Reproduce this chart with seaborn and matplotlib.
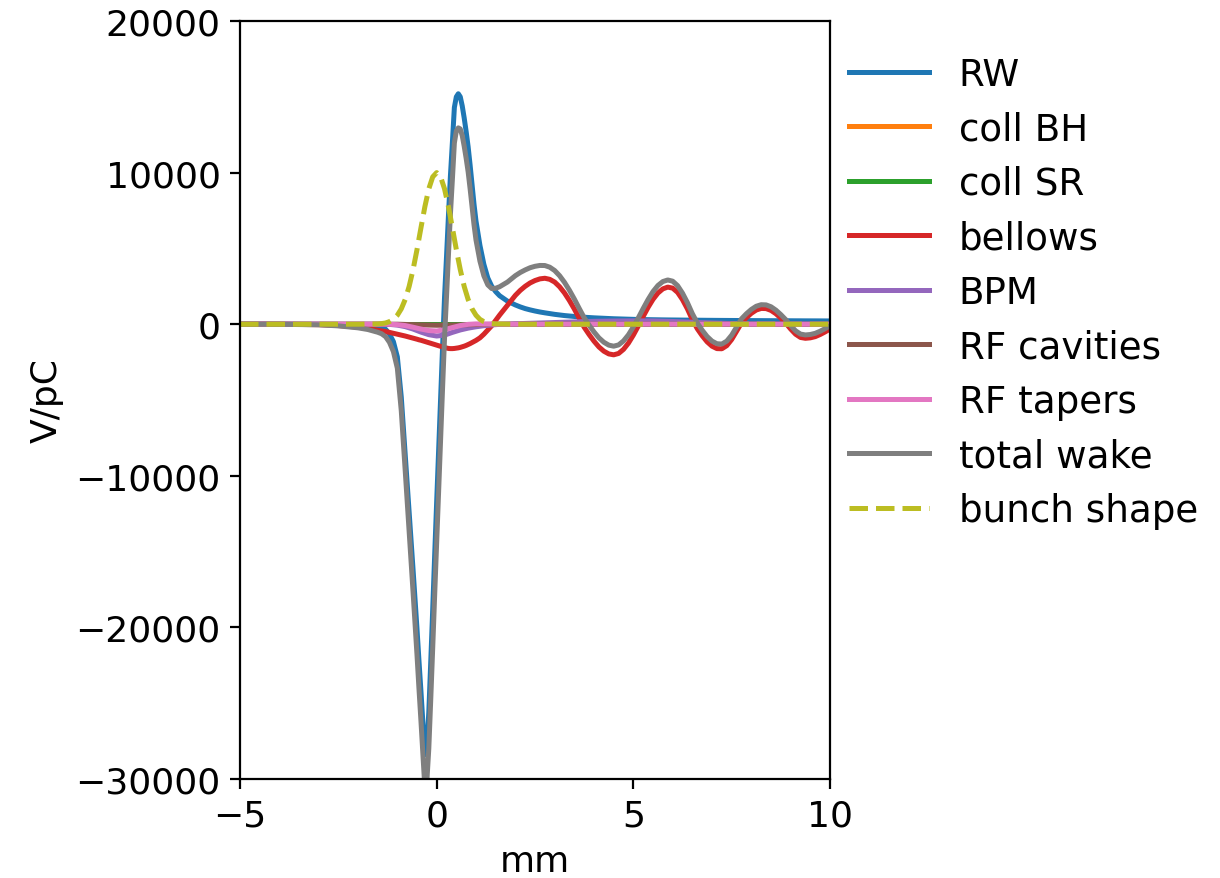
import matplotlib
matplotlib.use("Agg")
import matplotlib.pyplot as plt
import seaborn as sns

# ---- data ----
wake_x = [-5, -4, -3, -2.5, -2, -1.75, -1.5, -1.4, -1.3, -1.2, -1.1, -1.0, -0.9, -0.8, -0.7, -0.6,
          -0.5, -0.45, -0.4, -0.35, -0.3, -0.25, -0.2, -0.15, -0.1, -0.05, 0.0, 0.05, 0.1, 0.15,
          0.2, 0.25, 0.3, 0.35, 0.4, 0.45, 0.5, 0.55, 0.6, 0.65, 0.7, 0.75, 0.8, 0.85, 0.9, 0.95,
          1.0, 1.1, 1.2, 1.3, 1.4, 1.5, 1.6, 1.8,
          2.0, 2.125, 2.25, 2.375, 2.5, 2.625, 2.75, 2.875, 3.0, 3.125, 3.25, 3.375, 3.5, 3.625, 3.75, 3.875,
          4.0, 4.125, 4.25, 4.375, 4.5, 4.625, 4.75, 4.875, 5.0, 5.125, 5.25, 5.375, 5.5, 5.625, 5.75, 5.875,
          6.0, 6.125, 6.25, 6.375, 6.5, 6.625, 6.75, 6.875, 7.0, 7.125, 7.25, 7.375, 7.5, 7.625, 7.75, 7.875,
          8.0, 8.125, 8.25, 8.375, 8.5, 8.625, 8.75, 8.875, 9.0, 9.125, 9.25, 9.375, 9.5, 9.625, 9.75, 9.875,
          10.0]

rw = [0, 0, -10, -20, -40, -70, -130, -190, -330, -650, -1150, -2150, -4800, -8600, -12400, -16200,
      -20100, -22200, -24200, -26300, -28400, -27900, -25600, -22240, -18770, -15190, -11720, -8320, -4920, -1520,
      1780, 4430, 7180, 9800, 12000, 14300, 15000, 15200, 15000, 14400, 13600, 12700, 11700, 10500, 9200, 7900,
      6800, 5200, 3950, 3050, 2500, 2150, 1880, 1520,
      1270, 1140, 1030, 945, 870, 805, 750, 700, 650, 610, 570, 540, 510, 485, 460, 440,
      420, 405, 390, 375, 360, 350, 340, 330, 320, 312, 305, 300, 295, 290, 285, 281,
      278, 275, 272, 269, 266, 263, 260, 257, 255, 252, 250, 248, 246, 244, 242, 240,
      238, 236, 235, 233, 232, 230, 229, 227, 226, 224, 223, 221, 220, 219, 218, 216,
      215]

bellows = [0, -5, -30, -90, -200, -280, -400, -440, -490, -540, -600, -660, -720, -780, -850, -920,
           -990, -1030, -1060, -1100, -1140, -1180, -1220, -1260, -1300, -1340, -1380, -1420, -1460, -1500,
           -1540, -1570, -1600, -1610, -1610, -1600, -1580, -1560, -1530, -1490, -1450, -1400, -1340, -1280, -1210, -1140,
           -1070, -900, -660, -380, -100, 250, 600, 1250,
           1900, 2230, 2500, 2720, 2880, 2990, 3030, 2960, 2780, 2470, 2060, 1560, 1000, 390, -200, -680,
           -1120, -1500, -1780, -1960, -2020, -1930, -1660, -1250, -720, -120, 510, 1110, 1640, 2055, 2330, 2447,
           2380, 2100, 1620, 1010, 300, -295, -760, -1160, -1450, -1610, -1620, -1415, -1010, -465, 85, 430,
           720, 935, 1040, 1030, 910, 690, 400, 70, -320, -660, -875, -930, -900, -820, -680, -510,
           -320]

total = [0, -5, -40, -110, -240, -350, -530, -630, -820, -1196, -1804, -2900, -5698, -9646, -13659, -17672,
         -21810, -24033, -26146, -28357, -30567, -30178, -27988, -24702, -21304, -17798, -14400, -11001, -7602, -4203,
         -904, 1798, 4599, 7290, 9572, 11955, 12750, 12950, 12880, 12444, 11737, 10940, 10053, 8945, 7749, 6552,
         5555, 4163, 3190, 2595, 2350, 2370, 2470, 2780,
         3200, 3410, 3580, 3725, 3820, 3875, 3870, 3760, 3540, 3200, 2760, 2240, 1660, 1035, 430, -60,
         -510, -900, -1190, -1380, -1450, -1367, -1104, -702, -180, 411, 1033, 1626, 2150, 2552, 2813, 2917,
         2838, 2543, 2047, 1422, 696, 86, -395, -810, -1115, -1288, -1310, -1117, -724, -187, 355, 691,
         973, 1184, 1286, 1273, 1150, 926, 633, 299, -94, -436, -652, -709, -680, -601, -462, -294,
         -105]

coll_x = [-5, 10]
coll_bh = [0, 0]
coll_sr = [0, 0]

bpm_x = [-5, -1.25, -1.0, -0.8, -0.6, -0.4, -0.2, 0.0, 0.2, 0.4, 0.6, 0.8, 1.0, 1.2, 1.4, 1.6,
         2.0, 2.5, 3.0, 3.5, 4.0, 4.5, 5.0, 5.5, 6.0, 6.5, 7.0, 7.5, 8.0, 9.0, 10.0]
bpm = [0, 0, -60, -160, -320, -520, -690, -780, -720, -540, -380, -260, -170, -100, -50, -10,
       30, 70, 110, 150, 190, 210, 220, 215, 180, 130, 80, 40, 15, 0, 0]

cav_x = [-5, -1.0, -0.5, 0.0, 0.5, 1.0, 1.5, 10]
rf_cav = [0, 0, -40, -70, -55, -25, 0, 0]

tap_x = [-5, -1.25, -1.0, -0.8, -0.6, -0.4, -0.2, 0.0, 0.2, 0.4, 0.6, 0.8, 1.0, 1.2, 1.5, 10]
rf_tap = [0, 0, -30, -90, -200, -320, -420, -450, -360, -220, -90, -10, 20, 15, 0, 0]

bunch_x = [-5, -2, -1.5, -1.4, -1.3, -1.2, -1.1, -1.0, -0.9, -0.8, -0.7, -0.6, -0.5, -0.4, -0.3, -0.2, -0.1,
           0.0, 0.1, 0.2, 0.3, 0.4, 0.5, 0.6, 0.7, 0.8, 0.9, 1.0, 1.1, 1.2, 1.3, 1.4, 1.5, 2, 10]
bunch = [0, 0, 20, 40, 80, 170, 320, 590, 1010, 1630, 2490, 3600, 4920, 6350, 7750, 8930, 9720,
         10000, 9720, 8930, 7750, 6350, 4920, 3600, 2490, 1630, 1010, 590, 320, 170, 80, 40, 20, 0, 0]

labels = ["RW", "coll BH", "coll SR", "bellows", "BPM", "RF cavities", "RF tapers", "total wake", "bunch shape"]
colors = ["#1f77b4", "#ff7f0e", "#2ca02c", "#d62728", "#9467bd", "#8c564b", "#e377c2", "#7f7f7f", "#bcbd22"]

series = [(wake_x, rw), (coll_x, coll_bh), (coll_x, coll_sr), (wake_x, bellows), (bpm_x, bpm),
          (cav_x, rf_cav), (tap_x, rf_tap), (wake_x, total), (bunch_x, bunch)]

plt.rcParams["font.family"] = ["DejaVu Sans"]
plt.rcParams["font.size"] = 13

fig = plt.figure(figsize=(6.1, 4.395), dpi=200)
ax = fig.add_axes([240 / 1220, 1 - 780 / 879, 590 / 1220, 758 / 879])

for (xs, ys), lab, col in zip(series, labels, colors):
    ls = "--" if lab == "bunch shape" else "-"
    sns.lineplot(x=xs, y=ys, ax=ax, color=col, linestyle=ls, linewidth=1.8, label=lab,
                 sort=False, estimator=None)

ax.set_xlim(-5, 10)
ax.set_ylim(-30000, 20000)
ax.set_xticks([-5, 0, 5, 10])
ax.set_yticks([-30000, -20000, -10000, 0, 10000, 20000])
ax.set_xlabel("mm", fontsize=13)
ax.set_ylabel("V/pC", fontsize=13)
ax.tick_params(labelsize=13)

handles, labs = ax.get_legend_handles_labels()
ax.legend(handles, labs, loc="upper left", bbox_to_anchor=(834 / 1220, 1 - 42 / 879),
          bbox_transform=fig.transFigure, frameon=False, borderaxespad=0, fontsize=13.4,
          handlelength=2.15, labelspacing=0.47)

fig.savefig("out.png", dpi=200)
